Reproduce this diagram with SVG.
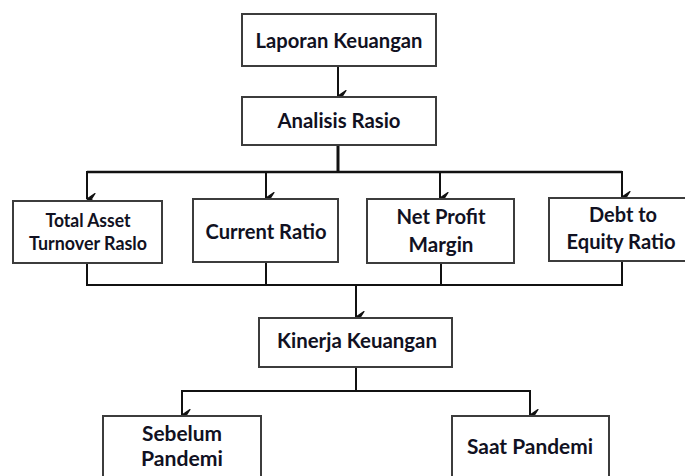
<svg xmlns="http://www.w3.org/2000/svg" width="685" height="476" viewBox="0 0 685 476">
<style>
.box{fill:#ffffff;stroke:#3c3c3c;stroke-width:2}
.t{font-family:Lato,"Open Sans","Liberation Sans",sans-serif;font-weight:700;font-size:20px;fill:#111122;text-anchor:middle}
.s{font-size:18px}
.ln{fill:none;stroke:#111111;stroke-width:2}
.thick{stroke-width:3}
</style>
<defs>
<marker id="ah" markerUnits="userSpaceOnUse" markerWidth="14" markerHeight="14" refX="7" refY="12" orient="auto-start-reverse" viewBox="0 0 14 14">
<path d="M1.5,4 L7,12 L12.5,4 L7,7.5 Z" fill="#111111" stroke="#111111" stroke-width="1.2" stroke-linejoin="round"/>
</marker>
</defs>
<rect width="685" height="476" fill="#ffffff"/>
<g id="connectors">
<line class="ln" x1="338" y1="67" x2="338" y2="96" marker-end="url(#ah)"/>
<line class="ln thick" x1="338" y1="146" x2="338" y2="172"/>
<line class="ln" x1="87" y1="172" x2="622" y2="172" style="stroke-width:2.5"/>
<line class="ln" x1="87" y1="171" x2="87" y2="199" marker-end="url(#ah)"/>
<line class="ln" x1="622" y1="171" x2="622" y2="197" marker-end="url(#ah)"/>
<line class="ln" x1="266" y1="172" x2="266" y2="198" marker-end="url(#ah)"/>
<line class="ln" x1="440" y1="172" x2="440" y2="198" marker-end="url(#ah)"/>
<polyline class="ln" points="87,264 87,285 622,285 622,262"/>
<line class="ln" x1="266" y1="263" x2="266" y2="285"/>
<line class="ln" x1="441" y1="264" x2="441" y2="285"/>
<line class="ln" x1="356" y1="285" x2="356" y2="317" marker-end="url(#ah)"/>
<line class="ln" x1="356" y1="368" x2="356" y2="391"/>
<polyline class="ln" points="182,391 530,391"/>
<line class="ln" x1="182" y1="390" x2="182" y2="415" marker-end="url(#ah)"/>
<line class="ln" x1="530" y1="390" x2="530" y2="415" marker-end="url(#ah)"/>
</g>
<g id="laporan">
<rect class="box" x="242" y="14" width="194" height="52"/>
<text class="t" x="339" y="48" textLength="167" lengthAdjust="spacingAndGlyphs">Laporan Keuangan</text>
</g>
<g id="analisis">
<rect class="box" x="242" y="97" width="194" height="48"/>
<text class="t" x="339" y="128" textLength="123" lengthAdjust="spacingAndGlyphs">Analisis Rasio</text>
</g>
<g id="tatr">
<rect class="box" x="13" y="201" width="149" height="62"/>
<text class="t s" x="88" y="227" textLength="85" lengthAdjust="spacingAndGlyphs">Total Asset</text>
<text class="t s" x="88" y="250" textLength="118" lengthAdjust="spacingAndGlyphs">Turnover Raslo</text>
</g>
<g id="cr">
<rect class="box" x="193" y="199" width="145" height="63"/>
<text class="t" x="266" y="239" textLength="121" lengthAdjust="spacingAndGlyphs">Current Ratio</text>
</g>
<g id="npm">
<rect class="box" x="367" y="199" width="147" height="64"/>
<text class="t" x="441" y="224" textLength="89" lengthAdjust="spacingAndGlyphs">Net Profit</text>
<text class="t" x="441" y="252" textLength="65" lengthAdjust="spacingAndGlyphs">Margin</text>
</g>
<g id="der">
<rect class="box" x="549" y="198" width="146" height="63"/>
<text class="t" x="623" y="222" textLength="68" lengthAdjust="spacingAndGlyphs">Debt to</text>
<text class="t" x="621" y="249" textLength="109" lengthAdjust="spacingAndGlyphs">Equity Ratio</text>
</g>
<g id="kinerja">
<rect class="box" x="259" y="318" width="193" height="49"/>
<text class="t" x="357" y="348" textLength="160" lengthAdjust="spacingAndGlyphs">Kinerja Keuangan</text>
</g>
<g id="sebelum">
<rect class="box" x="103" y="416" width="158" height="80"/>
<text class="t" x="182" y="441" textLength="80" lengthAdjust="spacingAndGlyphs">Sebelum</text>
<text class="t" x="182" y="466" textLength="82" lengthAdjust="spacingAndGlyphs">Pandemi</text>
</g>
<g id="saat">
<rect class="box" x="452" y="416" width="157" height="80"/>
<text class="t" x="530" y="454" textLength="126" lengthAdjust="spacingAndGlyphs">Saat Pandemi</text>
</g>
</svg>
